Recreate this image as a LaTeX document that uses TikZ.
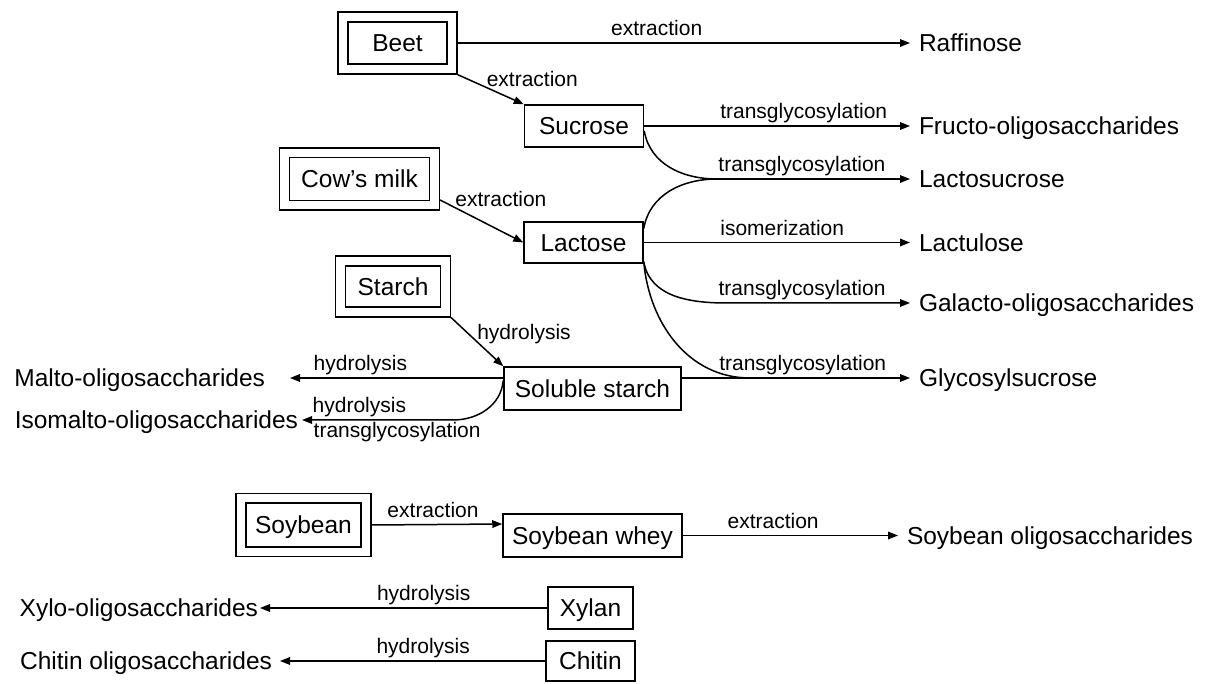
\documentclass[tikz,border=0pt]{standalone}
\usepackage{fontspec}
\setmainfont{Liberation Sans}
\usetikzlibrary{arrows.meta}
\begin{document}
\begin{tikzpicture}[x=1pt, y=-1pt, line width=1.5pt,
    font=\fontsize{24.5}{28}\selectfont,
    box/.style={draw, inner sep=0pt, text height=17.5pt, text depth=0pt},
    dbox/.style={box, double, double distance=8.2pt, outer sep=5.6pt},
    prod/.style={inner sep=0pt, text height=17.5pt, text depth=0pt, outer xsep=9pt},
    lbl/.style={font=\fontsize{21}{24}\selectfont, inner sep=2pt, text height=15pt, text depth=4.5pt},
    flow/.style={-{Triangle[length=10pt,width=7.5pt]}}]
      \useasboundingbox (0,0) rectangle (1232,684);
      \node[dbox, minimum width=109pt, minimum height=52pt] (beet) at (397.5,43) {Beet};
      \node[dbox, minimum width=150pt, minimum height=52.5pt] (cow) at (359.5,179) {Cow’s milk};
      \node[dbox, minimum width=105pt, minimum height=51pt] (starch) at (393,286.5) {Starch};
      \node[dbox, minimum width=125pt, minimum height=53.5pt] (soy) at (303.5,525) {Soybean};
      \node[box, minimum width=119pt, minimum height=42pt] (suc) at (584,126) {Sucrose};
      \node[box, minimum width=119pt, minimum height=41pt] (lac) at (583.5,242.5) {Lactose};
      \node[box, minimum width=177pt, minimum height=43pt] (ss) at (592.5,388.5) {Soluble starch};
      \node[box, minimum width=179pt, minimum height=43pt] (whey) at (592.5,535.5) {Soybean whey};
      \node[box, minimum width=85pt, minimum height=42pt] (xyl) at (590.5,608) {Xylan};
      \node[box, minimum width=89pt, minimum height=40pt] (chi) at (590.5,661) {Chitin};
      \node[prod, anchor=west] (raff) at (910,43) {Raffinose};
      \node[prod, anchor=west] (fos) at (910,126) {Fructo-oligosaccharides};
      \node[prod, anchor=west] (lsuc) at (910,179) {Lactosucrose};
      \node[prod, anchor=west] (lul) at (910,242.5) {Lactulose};
      \node[prod, anchor=west] (gos) at (910,303) {Galacto-oligosaccharides};
      \node[prod, anchor=west] (gsuc) at (910,378) {Glycosylsucrose};
      \node[prod, anchor=west] (soyos) at (898,535.5) {Soybean oligosaccharides};
      \node[prod, anchor=east, outer xsep=25pt] (mos) at (290,378) {Malto-oligosaccharides};
      \node[prod, anchor=east, outer xsep=4pt] (imos) at (302,420) {Isomalto-oligosaccharides};
      \node[prod, anchor=east, outer xsep=2pt] (xos) at (260,608) {Xylo-oligosaccharides};
      \node[prod, anchor=east, outer xsep=8pt] (chos) at (280,661) {Chitin oligosaccharides};
      \coordinate (jlsuc) at (717,179);
      \coordinate (jgos) at (727,303);
      \coordinate (jgsuc) at (750,378);
      \coordinate (jimos) at (453,420);
      \begin{scope}[flow]
        \draw (beet.east) -- node[lbl, above, pos=0.44] {extraction} (raff.west);
        \draw (beet.south east) -- node[lbl, anchor=base west, pos=0.4] {extraction} (suc.north west);
        \draw ([yshift=-21pt]cow.east) -- node[lbl, anchor=base west, pos=0.15] {extraction} (lac.west);
        \draw (starch.south east) -- node[lbl, anchor=base west, pos=0.45] {hydrolysis} (ss.north west);
        \draw (suc.east) -- node[lbl, above, pos=0.6] {transglycosylation} (fos.west);
        \draw (jlsuc) -- node[lbl, above, pos=0.44] {transglycosylation} (lsuc.west);
        \draw (lac.east) -- node[lbl, above, pos=0.52] {isomerization} (lul.west);
        \draw ([yshift=2pt]lac.south east) to[out=-80, in=180] (jgos)
          -- node[lbl, above, pos=0.41] {transglycosylation} (gos.west);
        \draw ([yshift=10.5pt]ss.east) -- node[lbl, above, pos=0.53] {transglycosylation} (gsuc.west);
        \draw ([yshift=10.5pt]ss.west) -- node[lbl, above, pos=0.67] {hydrolysis} (mos.east);
        \draw ([yshift=8pt]ss.west) to[out=-95, in=0] (jimos)
          -- node[lbl, above, pos=0.62] {hydrolysis} node[lbl, below, pos=0.37] {transglycosylation} (imos.east);
        \draw (soy.east) -- node[lbl, above, pos=0.47] {extraction} ([yshift=11.5pt]whey.west);
        \draw (whey.east) -- node[lbl, above, pos=0.42] {extraction} (soyos.west);
        \draw (xyl.west) -- node[lbl, above, pos=0.43] {hydrolysis} (xos.east);
        \draw (chi.west) -- node[lbl, above, pos=0.46] {hydrolysis} (chos.east);
      \end{scope}
      \begin{scope}[-]
        \draw ([yshift=-5pt]suc.east) to[out=-80, in=180] (jlsuc);
        \draw ([yshift=14pt]lac.east) to[out=80, in=180] (jlsuc);
        \draw ([yshift=2pt]lac.south east) to[out=-85, in=180] (jgsuc);
      \end{scope}
    \end{tikzpicture}
\end{document}
